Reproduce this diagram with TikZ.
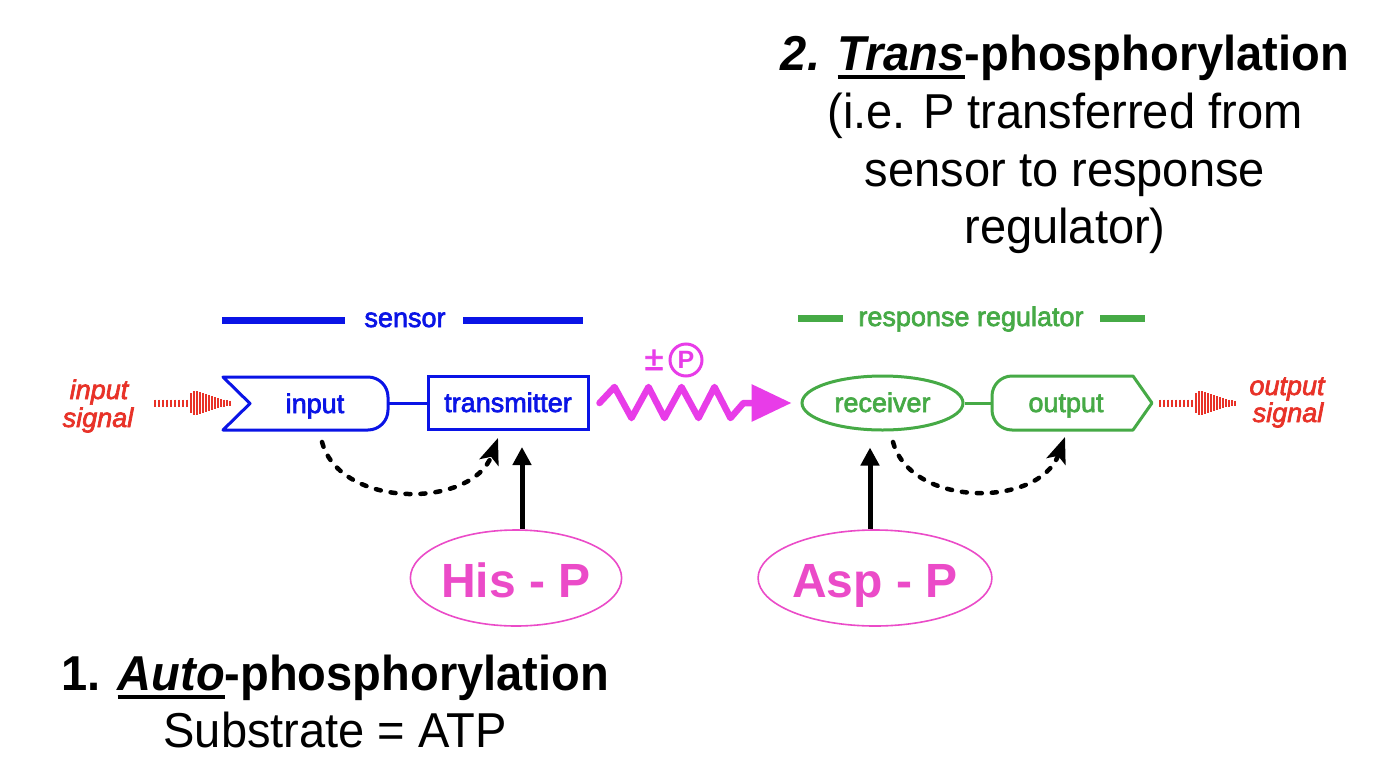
\documentclass[tikz,border=0pt]{standalone}
\usepackage{fontspec}
\setmainfont{Liberation Sans}
\newfontfamily\lblfont[FakeBold=2.5]{Liberation Sans}
\newfontfamily\titlefont[FakeStretch=0.96]{Liberation Sans}
\usetikzlibrary{arrows.meta,shapes.geometric}
\definecolor{sblue}{RGB}{10,20,230}
\definecolor{sgreen}{RGB}{70,170,70}
\definecolor{sred}{RGB}{232,50,40}
\definecolor{zmag}{RGB}{232,60,232}
\definecolor{ppink}{RGB}{235,75,200}
\newcommand\myul[1]{\setbox0\hbox{#1}\rlap{\rule[-8.5pt]{\wd0}{3.5pt}}\box0}
\tikzset{
  big/.style={font=\titlefont\fontsize{49}{58}\selectfont, anchor=base, inner sep=0pt},
  lbl/.style={font=\lblfont\fontsize{27}{32}\selectfont, inner sep=0pt},
  sig/.style={font=\lblfont\itshape\fontsize{27}{32}\selectfont, text=sred, anchor=base, inner sep=0pt},
  boxline/.style={line width=3pt, line join=round},
  bar/.style={line width=7pt},
  dotarr/.style={line width=4.5pt, dash pattern=on 5pt off 10pt, line cap=round, -{Stealth[length=26pt,width=20pt,inset=6pt]}},
  solidarr/.style={line width=5pt, -{Triangle[length=18pt,width=18pt]}},
  phos/.style={ellipse, draw=ppink, line width=1.6pt, minimum width=205pt, minimum height=96pt, inner sep=0pt,
    text=ppink, font=\bfseries\fontsize{48}{48}\selectfont, text height=38pt, text depth=0pt},
  sigwave/.pic={
    \foreach \x/\h in {0/3.5,4/3.5,8/3.5,12/3.5,16/3.5,20/3.5,24/3.5,28/3.5,32/3.5,36/10,39/12,42/12,45/11,48/10,51/9,54/8,57/7,60/6,63/5,66/4,69/3.5,72/3,75/2.5}
      \draw[sred, line width=2.4pt] (\x,-\h) -- (\x,\h);
  }
}
\begin{document}
\begin{tikzpicture}[x=1pt,y=-1pt]
\useasboundingbox[fill=white] (0,0) rectangle (1374,782);

% title texts
\node[big, font=\titlefont\bfseries\fontsize{49}{58}\selectfont] (t1) at (1065,70) {\textit{2. \myul{Trans}}-phosphorylation};
\node[big] (t2) at (1065,128) {(i.e. P transferred from};
\node[big] (t3) at (1065,186) {sensor to response};
\node[big] (t4) at (1065,243) {regulator)};

\node[big, font=\titlefont\bfseries\fontsize{49}{58}\selectfont] (b1) at (335,690) {1. \myul{\textit{Auto}}-phosphorylation};
\node[big] (b2) at (335,747) {Substrate = ATP};

% sensor / response regulator headers
\node[lbl, text=sblue, anchor=base] (sens) at (405,327) {sensor};
\draw[bar, sblue] (222,320) -- (345,320);
\draw[bar, sblue] (463,320) -- (583,320);
\node[lbl, text=sgreen, anchor=base] (rr) at (971,326) {response regulator};
\draw[bar, sgreen] (798,318) -- (843,318);
\draw[bar, sgreen] (1100,318) -- (1145,318);

% input signal
\node[sig] (is1) at (99,399) {input};
\node[sig] (is2) at (98,427) {signal};
\pic at (155,403) {sigwave};

% input box
\draw[sblue, boxline] (223,377) -- (368,377) .. controls (379,377) and (388,386) .. (388,397)
  -- (388,410) .. controls (388,421) and (379,430) .. (368,430) -- (223,430) -- (250,403.5) -- cycle;
\node[lbl, text=sblue, anchor=base] (inl) at (315,413) {input};
\coordinate (inR) at (388,403);

% transmitter
\node[draw=sblue, line width=3pt, minimum width=160pt, minimum height=53pt, inner sep=0pt,
  lbl, text=sblue, text height=18pt, text depth=0pt] (tr) at (508,403) {transmitter};
\draw[sblue, line width=3pt] (inR) -- (tr.west);

% receiver
\node[ellipse, draw=sgreen, line width=3pt, minimum width=161pt, minimum height=54pt, inner sep=0pt,
  lbl, text=sgreen, text height=18pt, text depth=0pt] (rc) at (882.5,403) {receiver};

% output box
\draw[sgreen, boxline] (1012,376) -- (1133,376) -- (1152,403) -- (1133,430) -- (1012,430)
  .. controls (1001,430) and (992,421) .. (992,410) -- (992,396) .. controls (992,385) and (1001,376) .. (1012,376) -- cycle;
\node[lbl, text=sgreen, anchor=base] (outl) at (1066,412) {output};
\coordinate (outL) at (992,403);
\draw[sgreen, line width=3pt] (rc.east) -- (outL);

% output signal
\pic at (1160,403) {sigwave};
\node[sig] (os1) at (1287,395) {output};
\node[sig] (os2) at (1288,422) {signal};

% phospho transfer zigzag
\node[text=zmag, font=\lblfont\fontsize{34}{34}\selectfont, anchor=base, inner sep=0pt] (pm) at (654,370) {±};
\node[circle, draw=zmag, line width=3pt, minimum size=32pt, inner sep=0pt, text=zmag,
  font=\bfseries\fontsize{25}{25}\selectfont] (cp) at (686,360) {P};
\draw[zmag, line width=6.5pt, line join=round, line cap=round, shorten >=9pt, -{Triangle[length=40pt,width=36pt]}]
  ([xshift=10pt]tr.east) -- ++(15,-16) -- ++(17,31) -- ++(17,-31) -- ++(16,31) -- ++(17,-31)
  -- ++(17,31) -- ++(16,-31) -- ++(16,31) -- ++(13,-15) -- (rc.west);

% phospho ellipses
\node[phos] (his) at (516,578) {His - P};
\node[phos] (asp) at (875,578) {Asp - P};
\draw[solidarr, shorten >=16pt] ([xshift=6pt]his.north) -- ([xshift=6pt]his.north |- tr.south);
\draw[solidarr, shorten >=16pt] ([xshift=-5pt]asp.north) -- ([xshift=-5pt]asp.north |- rc.south);

% dotted arrows
\coordinate (d1s) at (322,442);
\coordinate (d1e) at (498,438);
\draw[dotarr] (d1s) .. controls (340,509) and (472,509) .. (d1e);
\coordinate (d2s) at (893,442);
\coordinate (d2e) at (1065,437);
\draw[dotarr] (d2s) .. controls (911,508) and (1039,508) .. (d2e);
\end{tikzpicture}
\end{document}
